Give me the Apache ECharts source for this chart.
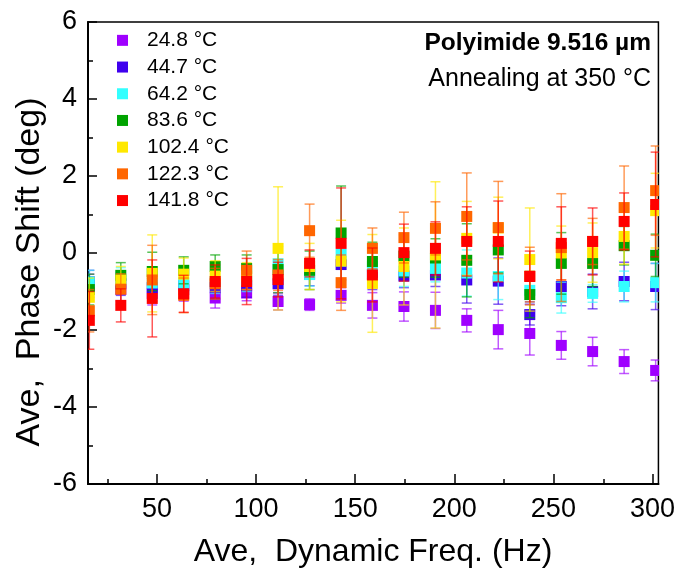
<!DOCTYPE html>
<html>
<head>
<meta charset="utf-8">
<script src="https://cdn.jsdelivr.net/npm/echarts@6/dist/echarts.min.js"></script>
<style>html,body{margin:0;padding:0;background:#fff}#c{width:678px;height:577px}</style>
</head>
<body>
<div id="c"></div>
<script>
const freq = [15.87, 31.75, 47.62, 63.49, 79.37, 95.24, 111.1, 127.0, 142.9, 158.7, 174.6, 190.5, 206.3, 222.2, 238.1, 254.0, 269.8, 285.7, 301.6];
const seriesNames = ['24.8 °C', '44.7 °C', '64.2 °C', '83.6 °C', '102.4 °C', '122.3 °C', '141.8 °C'];
const seriesColors = ['#9F00FF', '#3F00EE', '#33FFFF', '#00A300', '#FFE800', '#FF6600', '#FF0000'];

const y248 = [-0.85, -0.95, -1.05, -0.95, -1.17, -1.04, -1.26, -1.34, -1.10, -1.36, -1.39, -1.49, -1.75, -1.99, -2.09, -2.40, -2.56, -2.82, -3.05];
const y447 = [-0.75, -0.80, -0.90, -0.85, -0.90, -0.85, -0.80, -0.55, -0.30, -0.55, -0.60, -0.57, -0.70, -0.73, -1.60, -0.87, -1.00, -0.74, -0.87];
const y642 = [-0.75, -0.68, -0.78, -0.78, -0.75, -0.70, -0.28, -0.56, -0.04, -0.35, -0.47, -0.40, -0.52, -0.61, -0.97, -1.16, -1.05, -0.87, -0.77];
const y836 = [-0.95, -0.58, -0.48, -0.45, -0.35, -0.40, -0.43, -0.45, 0.52, -0.22, -0.08, -0.13, -0.19, 0.08, -1.08, -0.27, -0.27, 0.19, -0.06];
const y1024 = [-1.15, -0.70, -0.53, -0.55, -0.60, -0.60, 0.12, -0.35, -0.21, -0.79, -0.35, -0.05, 0.38, 0.65, -0.17, 0.00, 0.01, 0.43, 1.10];
const y1223 = [-1.50, -0.94, -0.70, -1.10, -0.80, -0.45, -0.57, 0.58, -0.77, 0.12, 0.40, 0.64, 0.95, 0.66, -0.60, 0.14, 0.30, 1.18, 1.62];
const y1418 = [-1.75, -1.36, -1.18, -1.06, -0.74, -0.74, -0.69, -0.27, 0.25, -0.57, 0.01, 0.12, 0.30, 0.30, -0.61, 0.25, 0.30, 0.82, 1.26];

const e248 = [0.30, 0.30, 0.30, 0.30, 0.26, 0.20, 0.22, 0.15, 0.20, 0.33, 0.38, 0.47, 0.30, 0.50, 0.56, 0.36, 0.37, 0.31, 0.27];
const e447 = [0.30, 0.30, 0.35, 0.30, 0.30, 0.30, 0.30, 0.30, 0.40, 0.40, 0.30, 0.30, 0.60, 0.60, 0.27, 0.50, 0.45, 0.50, 0.60];
const e642 = [0.30, 0.30, 0.40, 0.30, 0.30, 0.30, 0.30, 0.30, 0.30, 0.40, 0.40, 0.35, 0.60, 0.60, 0.30, 0.40, 0.23, 0.40, 0.50];
const e836 = [0.40, 0.33, 0.50, 0.35, 0.30, 0.35, 0.60, 0.50, 1.22, 0.50, 0.55, 0.50, 0.95, 0.60, 0.60, 0.80, 0.60, 0.50, 0.55];
const e1024 = [0.50, 0.35, 1.00, 0.42, 0.40, 0.35, 1.60, 0.60, 1.06, 1.27, 1.00, 1.90, 0.96, 0.80, 1.34, 0.70, 0.77, 0.72, 0.97];
const e1223 = [0.55, 0.40, 0.90, 0.45, 0.40, 0.50, 0.40, 0.69, 0.72, 0.53, 0.66, 0.69, 1.13, 1.20, 0.75, 1.40, 0.60, 1.08, 1.16];
const e1418 = [0.75, 0.43, 1.00, 0.48, 0.43, 0.60, 0.45, 0.35, 1.44, 0.70, 0.74, 0.69, 0.90, 1.05, 0.66, 0.95, 0.87, 0.74, 1.36];

const xMajorTicks = [50, 100, 150, 200, 250, 300];
const xMinorTicks = [25, 75, 125, 175, 225, 275];

const yVals = [y248, y447, y642, y836, y1024, y1223, y1418];
const eVals = [e248, e447, e642, e836, e1024, e1223, e1418];

const FONT = 'Liberation Sans, Arial, sans-serif';
const series = [];
seriesNames.forEach((name, i) => {
  const color = seriesColors[i];
  series.push({
    name: name,
    type: 'custom',
    clip: true,
    xAxisIndex: 0, yAxisIndex: 0,
    itemStyle: { color: color },
    data: freq.map((f, k) => [f, yVals[i][k]]),
    renderItem: function (params, api) {
      const p = api.coord([api.value(0), api.value(1)]);
      const s = 11;
      return { type: 'rect', shape: { x: p[0] - s / 2, y: p[1] - s / 2, width: s, height: s }, style: { fill: color } };
    }
  });
  series.push({
    name: name + ' err',
    type: 'custom',
    clip: true,
    xAxisIndex: 0, yAxisIndex: 0,
    itemStyle: { color: color },
    data: freq.map((f, k) => [f, yVals[i][k] - eVals[i][k], yVals[i][k] + eVals[i][k]]),
    renderItem: function (params, api) {
      const lo = api.coord([api.value(0), api.value(1)]);
      const hi = api.coord([api.value(0), api.value(2)]);
      const w = 5;
      const st = { stroke: color, lineWidth: 1.5, opacity: 0.65 };
      return {
        type: 'group',
        children: [
          { type: 'line', shape: { x1: lo[0], y1: lo[1], x2: hi[0], y2: hi[1] }, style: st },
          { type: 'line', shape: { x1: lo[0] - w, y1: lo[1], x2: lo[0] + w, y2: lo[1] }, style: st },
          { type: 'line', shape: { x1: hi[0] - w, y1: hi[1], x2: hi[0] + w, y2: hi[1] }, style: st }
        ]
      };
    }
  });
});

const gridBox = { left: 88, right: 19, top: 22, bottom: 93 };
const chart = echarts.init(document.getElementById('c'), null, { renderer: 'canvas' });
chart.setOption({
  animation: false,
  backgroundColor: '#fff',
  grid: [
    Object.assign({ show: true, borderColor: '#000', borderWidth: 1.5, backgroundColor: 'transparent' }, gridBox),
    Object.assign({ show: false }, gridBox)
  ],
  legend: {
    data: seriesNames.map(n => ({ name: n, icon: 'rect' })),
    orient: 'vertical', left: 117, top: 27, padding: 0,
    itemWidth: 11, itemHeight: 11, itemGap: 0,
    selectedMode: false,
    textStyle: { fontSize: 21, fontFamily: FONT, color: '#000', lineHeight: 26.7, padding: [0, 0, 0, 14] }
  },
  xAxis: [{
    gridIndex: 0, type: 'value', min: 15.2, max: 303, position: 'bottom',
    axisLine: { onZero: false, lineStyle: { color: '#000', width: 2 } },
    axisTick: { inside: true, length: 10, customValues: xMajorTicks, lineStyle: { color: '#000', width: 1.5 } },
    axisLabel: { customValues: xMajorTicks, fontSize: 27, fontFamily: FONT, color: '#000', margin: 12 },
    splitLine: { show: false }
  }, {
    gridIndex: 1, type: 'value', min: 15.2, max: 303, position: 'bottom',
    axisLine: { show: false, onZero: false },
    axisTick: { show: true, inside: true, length: 5, customValues: xMinorTicks, lineStyle: { color: '#000', width: 1.5 } },
    axisLabel: { show: false },
    splitLine: { show: false }
  }],
  yAxis: [{
    gridIndex: 0, type: 'value', min: -6, max: 6, interval: 2,
    axisLine: { lineStyle: { color: '#000', width: 2 } },
    axisTick: { inside: true, length: 9, lineStyle: { color: '#000', width: 1.5 } },
    minorTick: { show: true, splitNumber: 2, length: 5, lineStyle: { color: '#000', width: 1.5 } },
    axisLabel: { fontSize: 27, fontFamily: FONT, color: '#000', margin: 11 },
    splitLine: { show: false }
  }, {
    gridIndex: 1, type: 'value', min: -6, max: 6, show: false
  }],
  graphic: [
    { type: 'text', right: 27, top: 31, style: { text: 'Polyimide 9.516 µm', font: 'bold 24.5px ' + FONT, fill: '#000' } },
    { type: 'text', right: 27, top: 67, style: { text: 'Annealing at 350 °C', font: '25px ' + FONT, fill: '#000' } },
    { type: 'text', x: 373, y: 552, style: { text: 'Ave,  Dynamic Freq. (Hz)', font: '32px ' + FONT, fill: '#000', align: 'center', verticalAlign: 'middle' } },
    { type: 'text', x: 30, y: 272, rotation: Math.PI / 2, style: { text: 'Ave,  Phase Shift (deg)', font: '34px ' + FONT, fill: '#000', align: 'center', verticalAlign: 'middle' } }
  ],
  series: series
});
</script>
</body>
</html>
